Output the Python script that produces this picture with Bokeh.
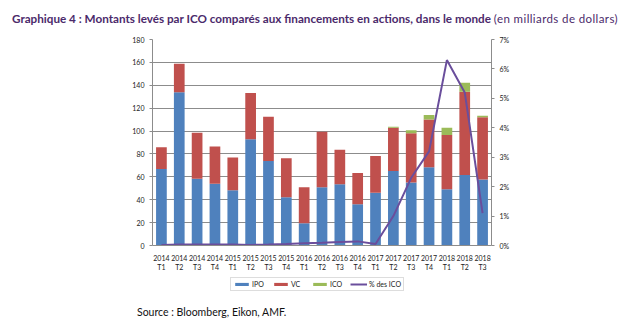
from bokeh.plotting import figure
from bokeh.layouts import column
from bokeh.models import (Range1d, LinearAxis, FixedTicker, PrintfTickFormatter,
                          Legend, LegendItem, ColumnDataSource, Div)
from bokeh.embed import file_html
from bokeh.resources import INLINE

years = ["2014"] * 4 + ["2015"] * 4 + ["2016"] * 4 + ["2017"] * 4 + ["2018"] * 3
quarters = ["T1", "T2", "T3", "T4"] * 4 + ["T1", "T2", "T3"]
ipo = [66.9, 134.0, 58.4, 54.0, 48.3, 92.8, 73.9, 42.2, 19.5, 50.9, 53.5, 36.0,
       46.2, 65.1, 55.0, 68.3, 49.1, 61.6, 57.6]
totals_ipo_vc = [85.8, 158.8, 98.6, 86.4, 77.0, 133.2, 112.5, 76.2, 50.9, 99.4, 83.7, 63.4,
                 78.2, 102.9, 98.0, 110.2, 96.5, 134.3, 112.0]
vc = [round(t - i, 1) for t, i in zip(totals_ipo_vc, ipo)]
ico = [0, 0, 0, 0, 0, 0, 0, 0, 0, 0, 0, 0, 0, 0.9, 2.6, 3.8, 6.4, 7.9, 1.4]
pct_ico = [0.02, 0.03, 0.03, 0.03, 0.03, 0.02, 0.03, 0.05, 0.08, 0.09, 0.12, 0.14,
           0.05, 1.0, 2.3, 3.2, 6.3, 5.2, 1.1]
y_ticks = [0, 20, 40, 60, 80, 100, 120, 140, 160, 180]
pct_ticks = [0, 1, 2, 3, 4, 5, 6, 7]
series_names = ["IPO", "VC", "ICO"]
line_name = "% des ICO"
title_bold = "Graphique 4 : Montants levés par ICO comparés aux financements en actions, dans le monde"
title_unit = "(en milliards de dollars)"
source_text = "Source : Bloomberg, Eikon, AMF."

labels = [f"{y}\n{q}" for y, q in zip(years, quarters)]
xs = list(range(len(labels)))

src = ColumnDataSource(dict(x=xs, IPO=ipo, VC=vc, ICO=ico, pct=pct_ico))

W = 622
FL, FR = 152, 491
TITLE_H = 30
colors = ["#4F81BD", "#C0504D", "#9BBB59"]
line_color = "#6A4E9C"

p = figure(output_backend="svg", toolbar_location=None,
           x_range=Range1d(-0.5, len(xs) - 0.5), y_range=Range1d(0, 180),
           min_border_left=FL, min_border_right=W - FR,
           min_border_top=39 - TITLE_H, min_border_bottom=0,
           frame_width=FR - FL, frame_height=206, margin=0)
p.outline_line_color = None
p.background_fill_color = "white"
p.border_fill_color = "white"

p.extra_y_ranges = {"pct": Range1d(0, 7)}

p.vbar_stack(series_names, x="x", width=0.6, source=src,
             color=colors, line_color=None)
p.line("x", "pct", source=src, y_range_name="pct", line_color=line_color, line_width=2)

TICK_FONT = "7px"
p.xaxis.ticker = FixedTicker(ticks=xs)
p.xaxis.major_label_overrides = {i: l for i, l in zip(xs, labels)}
p.xaxis.major_label_text_font_size = TICK_FONT
p.xaxis.major_label_text_font = "Lato"
p.xaxis.major_label_text_color = "#222222"
p.xaxis.major_tick_line_color = None
p.xaxis.minor_tick_line_color = None
p.xaxis.axis_line_color = "#8C8C8C"
p.xaxis.major_label_standoff = 2

p.yaxis.ticker = FixedTicker(ticks=y_ticks)
p.yaxis.major_label_text_font_size = TICK_FONT
p.yaxis.major_label_text_font = "Lato"
p.yaxis.major_label_text_color = "#222222"
p.yaxis.axis_line_color = "#8C8C8C"
p.yaxis.major_tick_line_color = "#8C8C8C"
p.yaxis.major_tick_in = 0
p.yaxis.major_tick_out = 3
p.yaxis.minor_tick_line_color = None
p.yaxis.major_label_standoff = 5

ra = LinearAxis(y_range_name="pct", ticker=FixedTicker(ticks=pct_ticks),
                formatter=PrintfTickFormatter(format="%d%%"))
ra.major_label_text_font_size = TICK_FONT
ra.major_label_text_font = "Lato"
ra.major_label_text_color = "#222222"
ra.axis_line_color = "#8C8C8C"
ra.major_tick_line_color = "#8C8C8C"
ra.major_tick_in = 0
ra.major_tick_out = 3
ra.minor_tick_line_color = None
ra.major_label_standoff = 5
p.add_layout(ra, "right")

p.xgrid.grid_line_color = None
p.ygrid.ticker = FixedTicker(ticks=y_ticks)
p.ygrid.grid_line_color = "#8C8C8C"
p.ygrid.grid_line_width = 1

# legend in its own small figure (glyph samples kept outside the visible range)
LEG_H = 26
lp = figure(output_backend="svg", toolbar_location=None, width=W, height=LEG_H,
            x_range=Range1d(0, 1), y_range=Range1d(0, 1),
            x_axis_type=None, y_axis_type=None, min_border=0, margin=0)
lp.outline_line_color = None
lp.grid.grid_line_color = None
items = []
for name, c in zip(series_names, colors):
    r = lp.vbar(x=[-5], top=[-5], bottom=[-6], width=0.1, color=c, line_color=None)
    items.append(LegendItem(label=name, renderers=[r]))
rl = lp.line(x=[-5, -4], y=[-5, -5], line_color=line_color, line_width=2)
items.append(LegendItem(label=line_name, renderers=[rl]))
legend = Legend(items=items, orientation="horizontal", location=(78, 9),
                label_text_font="Lato", label_text_font_size="7px",
                label_text_color="#222222",
                glyph_width=17, glyph_height=4, spacing=0, padding=2,
                label_standoff=2, margin=0, label_height=8,
                border_line_color="#BBBBBB", background_fill_alpha=1)
lp.add_layout(legend, "center")

title_div = Div(text=(f'<span style="font-weight:bold;font-size:11.7px">{title_bold}</span> '
                      f'<span style="font-size:11.5px;letter-spacing:0.4px">{title_unit}</span>'),
                width=W, height=TITLE_H, margin=0,
                styles={"font-family": "Lato", "font-size": "11.5px", "color": "#4B2A6B",
                        "padding-left": "12px", "padding-top": "10px",
                        "white-space": "nowrap", "box-sizing": "border-box"})
source_div = Div(text=source_text, width=W, height=36, margin=0,
                 styles={"font-family": "Lato", "font-size": "10.5px", "color": "#111111",
                         "padding-left": "137px", "padding-top": "5px",
                         "white-space": "nowrap", "box-sizing": "border-box"})

layout = column(title_div, p, lp, source_div, spacing=0, margin=0)
open("out.html", "w").write(file_html(layout, INLINE))
